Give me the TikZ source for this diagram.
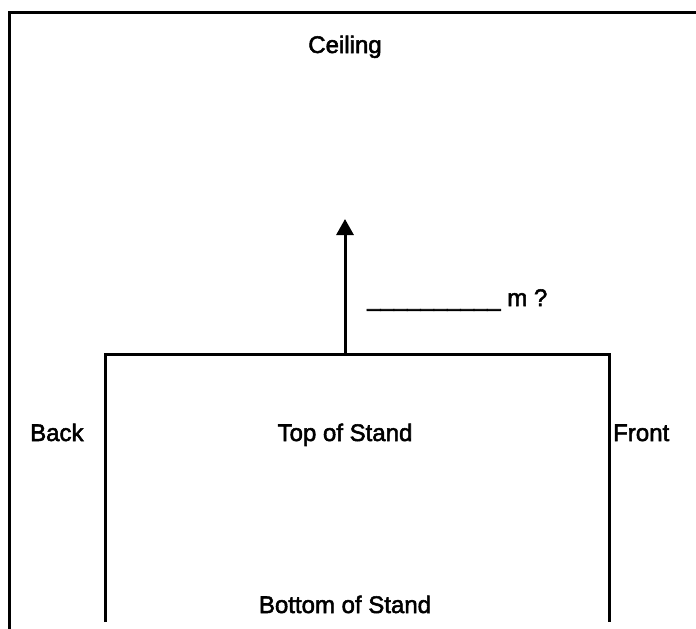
\documentclass[tikz,border=0pt]{standalone}
\usepackage{fontspec}
\setmainfont[FakeBold=2.2]{Liberation Sans}
\usetikzlibrary{arrows.meta}
\begin{document}
\begin{tikzpicture}[x=1pt,y=-1pt,
  lbl/.style={font=\fontsize{24}{28}\selectfont, inner sep=0pt},
  edge/.style={line width=3pt, line cap=butt, line join=miter}]
\useasboundingbox (0,0) rectangle (696,629);
\coordinate (frameBL) at (9,629);
\coordinate (frameTL) at (9,12);
\coordinate (frameTR) at (696,12);
\draw[edge] (frameBL) -- (frameTL) -- (frameTR);
\coordinate (standBL) at (105,622);
\coordinate (standTL) at (105,354);
\coordinate (standTR) at (609,354);
\coordinate (standBR) at (609,622);
\draw[edge] (standBL) -- (standTL) -- (standTR) -- (standBR);
\coordinate (arrowStart) at (345,354);
\coordinate (arrowEnd) at (345,219);
\draw[edge, -{Triangle[width=17pt,length=16pt]}] (arrowStart) -- (arrowEnd);
\node[lbl, anchor=base] (ceiling) at (345,53) {Ceiling};
\node[lbl, anchor=base west] (dist) at (367,306) {\_\_\_\_\_\_\_\_\_\_ m ?};
\node[lbl, anchor=base west] (back) at (30,441) {Back};
\node[lbl, anchor=base] (top) at (345,441) {Top of Stand};
\node[lbl, anchor=base west] (front) at (613,441) {Front};
\node[lbl, anchor=base] (bottom) at (345,613) {Bottom of Stand};
\end{tikzpicture}
\end{document}
